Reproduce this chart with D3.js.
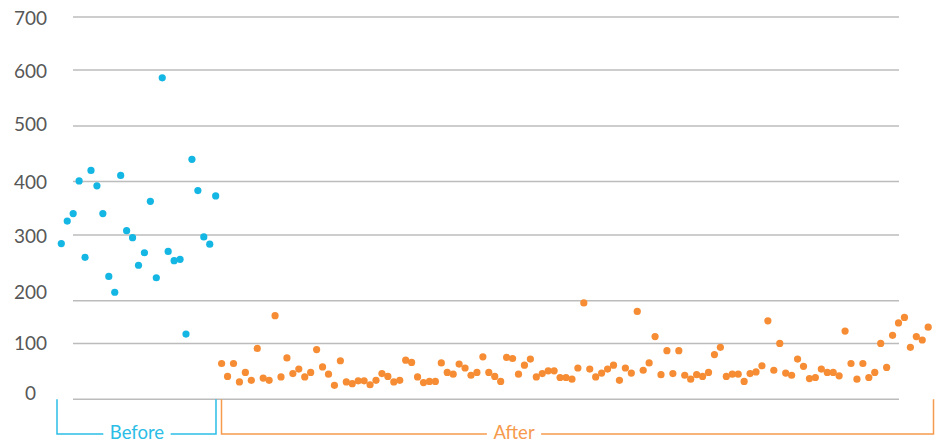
<!DOCTYPE html>
<html>
<head>
<meta charset="utf-8">
<script src="https://cdn.jsdelivr.net/npm/d3@7/dist/d3.min.js"></script>
<style>
  html, body { margin: 0; padding: 0; background: #fff; }
  svg { display: block; }
  text { font-family: Lato, "Noto Sans", sans-serif; }
</style>
</head>
<body>
<svg id="chart" width="940" height="443"></svg>
<script>
// ---- data ----
const yTicks = [0, 100, 200, 300, 400, 500, 600, 700];
const beforeValues = [287, 326, 340, 401, 266, 420, 392, 340, 237, 213, 411, 308, 296, 254,
  273, 363, 235, 586, 275, 261, 263, 122, 440, 383, 297, 286, 373];
const afterValues = [
  64, 41, 64, 31, 48, 34, 91, 38, 34, 165, 40, 74, 46, 54, 40, 48, 89, 58, 45, 25,
  69, 31, 28, 33, 33, 26, 34, 46, 41, 31, 34,
  70, 66, 40, 30, 32, 32, 65, 48, 45, 63, 56, 43, 48, 76, 48, 41, 32, 75, 73, 45,
  61, 72, 40, 46, 51, 51, 39, 39, 36, 56,
  195, 54, 40, 47, 54, 61, 34, 56, 47, 175, 52, 65, 116, 44, 87, 46, 87, 43, 36, 44,
  41, 48, 80, 93, 41, 45, 45, 32, 46, 49,
  60, 153, 52, 100, 47, 43, 72, 59, 37, 39, 54, 48, 48, 42, 129, 64, 36, 64, 39, 48,
  100, 57, 119, 148, 161, 93, 116, 108, 138];
const groups = ["Before", "After"];

// ---- layout ----
const blue = "#14b6e3", orange = "#f68c33";
const blueLabel = "#2bbde6", orangeLabel = "#f69a4d";
const svg = d3.select("#chart");

const points = beforeValues.map((v, i) => ({ i, v, g: "Before" }))
  .concat(afterValues.map((v, k) => ({ i: beforeValues.length + k, v, g: "After" })));
const n = points.length;

const x = d3.scaleLinear().domain([0, n - 1]).range([61.3, 928.2]);
// scale follows the (uneven) gridline placement of the original graphic
const y = d3.scaleLinear().domain(yTicks).range([399.3, 343.4, 300.8, 235, 181.5, 126, 70, 17]);
const yLabel = d3.scaleLinear().domain(yTicks).range([392.7, 342.7, 291.7, 235, 181.7, 123.3, 70, 17]);

// gridlines
svg.append("g").selectAll("line").data(yTicks).join("line")
  .attr("x1", 73).attr("x2", 899)
  .attr("y1", d => y(d)).attr("y2", d => y(d))
  .attr("stroke", "#bcbcbc").attr("stroke-width", 1.5);

// tick labels
svg.append("g").selectAll("text").data(yTicks).join("text")
  .attr("x", 30.5).attr("y", d => yLabel(d))
  .attr("text-anchor", "middle").attr("dominant-baseline", "central")
  .attr("font-size", 19).attr("fill", "#575757")
  .text(d => d);

// points
svg.append("g").selectAll("circle").data(points).join("circle")
  .attr("cx", d => x(d.i)).attr("cy", d => y(d.v))
  .attr("r", 3.6)
  .attr("fill", d => d.g === "Before" ? blue : orange);

// brackets
const bracketTop = y(0), bracketBottom = 434;
const brackets = [
  { name: groups[0], x0: 57, x1: 216, tx: 137, color: blueLabel },
  { name: groups[1], x0: 221.5, x1: 933.5, tx: 514, color: orangeLabel }
];
brackets.forEach(b => {
  const g = svg.append("g");
  const t = g.append("text")
    .attr("x", b.tx).attr("y", bracketBottom - 2.5)
    .attr("text-anchor", "middle").attr("dominant-baseline", "central")
    .attr("font-size", 18.5).attr("fill", b.color)
    .text(b.name);
  const w = t.node().getComputedTextLength();
  const gap = 6.5;
  const path = d3.path();
  path.moveTo(b.tx - w / 2 - gap, bracketBottom);
  path.lineTo(b.x0, bracketBottom);
  path.lineTo(b.x0, bracketTop);
  path.moveTo(b.tx + w / 2 + gap, bracketBottom);
  path.lineTo(b.x1, bracketBottom);
  path.lineTo(b.x1, bracketTop);
  g.append("path").attr("d", path.toString())
    .attr("fill", "none").attr("stroke", b.color).attr("stroke-width", 1.5);
});
</script>
</body>
</html>
